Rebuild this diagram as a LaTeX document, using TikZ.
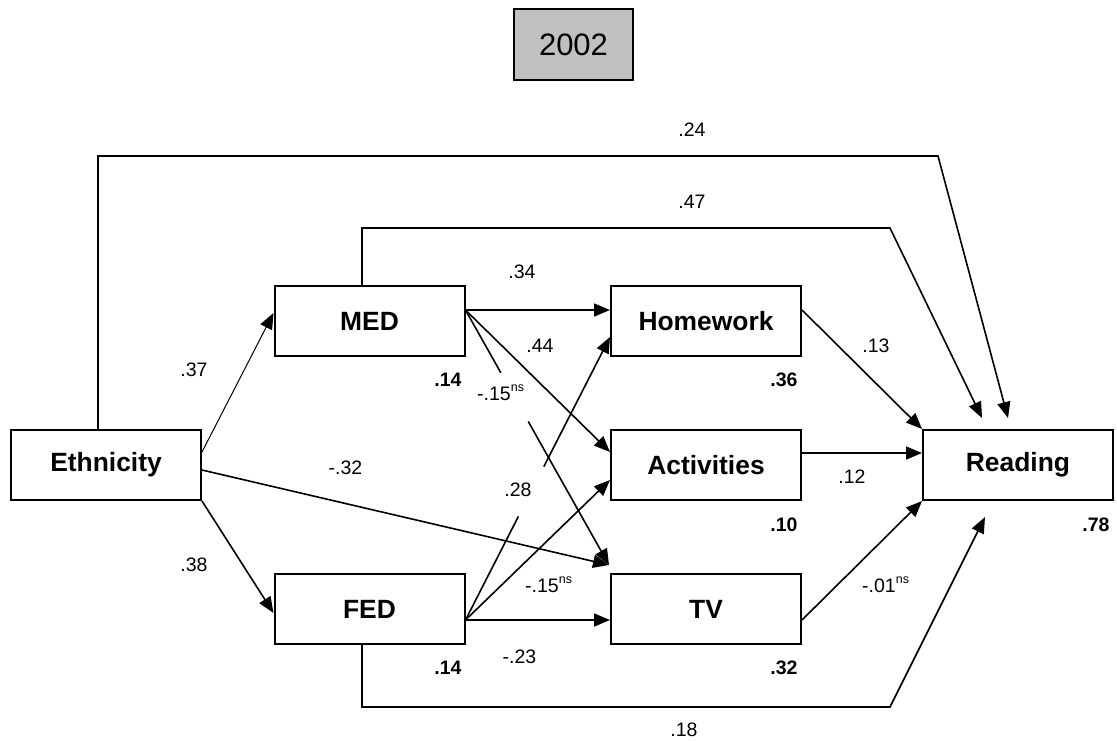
\documentclass[tikz,border=0pt]{standalone}
\usepackage{fontspec}
\setmainfont{Liberation Sans}
\usetikzlibrary{arrows.meta,calc}
\definecolor{boxgray}{RGB}{192,192,192}
\newcommand\nsmark{\raisebox{9pt}{\fontsize{12.5}{13}\selectfont ns}}
\begin{document}
\begin{tikzpicture}[x=1pt,y=-1pt,
  box/.style={draw,line width=2pt,minimum width=190pt,minimum height=70pt,inner sep=0pt,
    font=\fontsize{26.4}{30}\selectfont\bfseries},
  titlebox/.style={draw,line width=2pt,fill=boxgray,minimum width=119pt,minimum height=71pt,
    inner sep=0pt,font=\fontsize{31}{34}\selectfont},
  arr/.style={line width=1.6pt,-{Triangle[length=16pt,width=13pt]}},
  seg/.style={line width=1.6pt},
  lbl/.style={font=\fontsize{19.5}{22}\selectfont,inner sep=0pt},
  r2/.style={font=\fontsize{19.5}{22}\selectfont\bfseries,inner sep=0pt}]
\useasboundingbox (0,0) rectangle (1117,740);

% nodes
\node[titlebox] (title) at (573.5,44.5) {2002};
\node[box] (eth) at (106,465) {Ethnicity};
\node[box] (med) at (369.5,321) {MED};
\node[box] (fed) at (369.5,609) {FED};
\node[box] (hw) at (706,321) {Homework};
\node[box] (act) at (706,465) {Activities};
\node[box] (tv) at (706,609) {TV};
\node[box] (rd) at (1018,465) {Reading};

% helper coordinates
\coordinate (k24) at (938,156);
\coordinate (k47) at (890,228);
\coordinate (k18) at (890,707);
\coordinate (mo) at ([yshift=11pt]med.east);
\coordinate (fo) at ([yshift=-11pt]fed.east);
\coordinate (tvtip) at ([xshift=-1pt,yshift=8pt]tv.north west);
\coordinate (hwin) at ([yshift=-16pt]hw.west);

% long paths to Reading
\draw[arr] ([xshift=-8pt]eth.north) |- (k24) -- ([xshift=-10pt,yshift=11pt]rd.north);
\draw[arr] ([xshift=-7.5pt]med.north) |- (k47) -- ([xshift=-36pt,yshift=11pt]rd.north);
\draw[arr] ([xshift=-7.5pt]fed.south) |- (k18) -- ([xshift=-33pt,yshift=-16pt]rd.south);

% from Ethnicity
\draw[arr,line width=1pt] ([yshift=13pt]eth.east) -- ([yshift=8pt]med.west);
\draw[arr] (eth.south east) -- ([yshift=-4pt]fed.west);
\draw[arr] ([yshift=-5pt]eth.east) -- (tvtip);

% from MED
\draw[arr] (mo) -- ([yshift=11pt]hw.west);
\draw[arr] (mo) -- ([yshift=13pt]act.west);
\draw[seg] (mo) -- ($(mo)!0.246!(tvtip)$);
\draw[arr] ($(mo)!0.437!(tvtip)$) -- (tvtip);

% from FED
\draw[seg] (fo) -- ($(fo)!0.366!(hwin)$);
\draw[arr] ($(fo)!0.542!(hwin)$) -- (hwin);
\draw[arr] (fo) -- ([yshift=-15pt]act.west);
\draw[arr] (fo) -- ([yshift=-11pt]tv.west);

% to Reading
\draw[arr] ([yshift=11pt]hw.east) -- (rd.north west);
\draw[arr] ([yshift=12pt]act.east) -- ([yshift=12pt]rd.west);
\draw[arr] ([yshift=-11pt]tv.east) -- (rd.south west);

% path labels
\node[lbl] at (692,130) {.24};
\node[lbl] at (692,202) {.47};
\node[lbl] at (522,272) {.34};
\node[lbl] at (540,346) {.44};
\node[lbl] at (194,370) {.37};
\node[lbl] at (194,565) {.38};
\node[lbl] at (345.5,468) {-.32};
\node[lbl] at (518,490) {.28};
\node[lbl] at (876,346) {.13};
\node[lbl] at (852,477) {.12};
\node[lbl] at (684,730) {.18};
\node[lbl] at (519.5,657) {-.23};
\node[lbl,anchor=base west] at (477,400) {-.15\nsmark};
\node[lbl,anchor=base west] at (525,592) {-.15\nsmark};
\node[lbl,anchor=base west] at (862,592) {-.01\nsmark};

% R-squared labels
\node[r2] at (448,380) {.14};
\node[r2] at (784,380) {.36};
\node[r2] at (784,525) {.10};
\node[r2] at (1096,525) {.78};
\node[r2] at (784,668) {.32};
\node[r2] at (448,668) {.14};
\end{tikzpicture}
\end{document}
